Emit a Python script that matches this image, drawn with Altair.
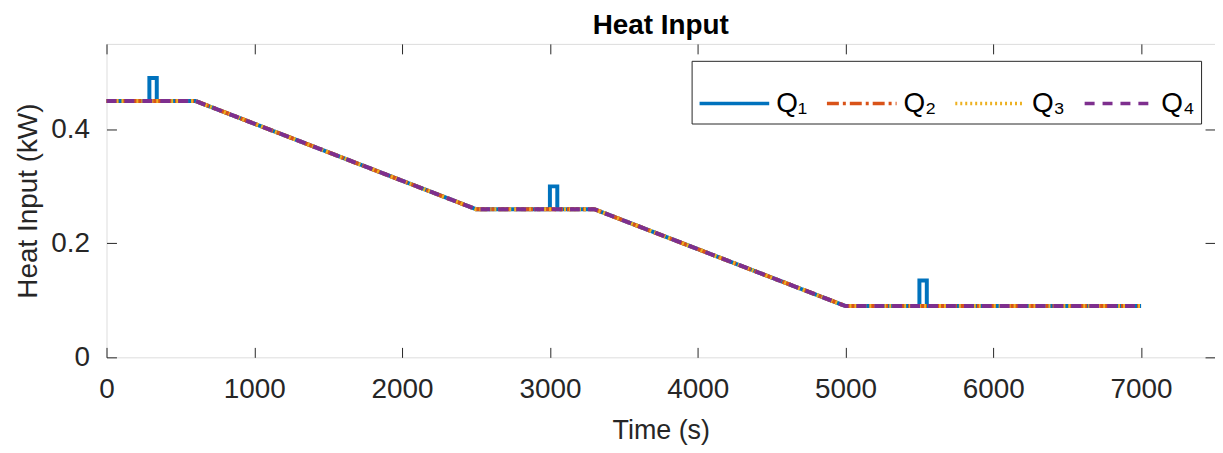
import altair as alt
import pandas as pd

# Q1 (with short pulses) and shared base profile for Q2..Q4
t_q1 = [0, 290, 290, 340, 340, 600, 2500, 3000, 3000, 3050, 3050, 3300, 5000, 5500, 5500, 5550, 5550, 7000]
v_q1 = [0.45, 0.45, 0.49, 0.49, 0.45, 0.45, 0.26, 0.26, 0.30, 0.30, 0.26, 0.26, 0.09, 0.09, 0.135, 0.135, 0.09, 0.09]
t_base = [0, 600, 2500, 3300, 5000, 7000]
v_base = [0.45, 0.45, 0.26, 0.26, 0.09, 0.09]

series = ["Q\u2081", "Q\u2082", "Q\u2083", "Q\u2084"]
colors = ["#0072BD", "#D95319", "#EDB120", "#7E2F8E"]
dashes = [[1, 0], [12, 4, 3, 4], [2, 3], [10, 8]]

x_ticks = [0, 1000, 2000, 3000, 4000, 5000, 6000, 7000]
y_ticks = [0, 0.2, 0.4]

rows = []
for i, (t, v) in enumerate(zip(t_q1, v_q1)):
    rows.append({"s": series[0], "i": i, "t": t, "q": v})
for s in series[1:]:
    for i, (t, v) in enumerate(zip(t_base, v_base)):
        rows.append({"s": s, "i": i, "t": t, "q": v})
df = pd.DataFrame(rows)

FONT = "Liberation Sans"
INK = "#262626"

xscale = alt.Scale(domain=[0, 7500], nice=False, zero=False)
yscale = alt.Scale(domain=[0, 0.55], nice=False, zero=False)

legend = alt.Legend(
    title=None, orient="none", legendX=588, legendY=17, direction="horizontal",
    symbolType="stroke", symbolSize=4900, symbolStrokeWidth=3.5,
    labelFontSize=28, labelFont=FONT, labelColor="black", labelOffset=5,
    columnPadding=12, padding=6, strokeColor=INK, fillColor="white",
)

base = alt.Chart(df)

lines = base.mark_line(strokeWidth=4).encode(
    x=alt.X("t:Q", scale=xscale, axis=alt.Axis(
        values=x_ticks, format="d", title="Time (s)", titleFontSize=27,
        titleFont=FONT, titleFontWeight="normal", titleColor=INK, titlePadding=15,
        labelFontSize=28, labelFont=FONT, labelColor=INK, labelPadding=18,
        ticks=False, tickSize=0, domain=False, grid=True, gridDash=[10, 3000],
        gridColor=INK, gridWidth=1, gridOpacity=1, labelFlush=False)),
    y=alt.Y("q:Q", scale=yscale, axis=alt.Axis(
        values=y_ticks, format=".1~f", title="Heat Input (kW)", titleFontSize=28,
        titleFont=FONT, titleFontWeight="normal", titleColor=INK, titlePadding=8,
        labelFontSize=28, labelFont=FONT, labelColor=INK, labelPadding=17,
        ticks=False, tickSize=0, domain=False, grid=True, gridDash=[10, 3000],
        gridColor=INK, gridWidth=1, gridOpacity=1, labelFlush=False)),
    color=alt.Color("s:N", scale=alt.Scale(domain=series, range=colors), legend=legend),
    strokeDash=alt.StrokeDash("s:N", scale=alt.Scale(domain=series, range=dashes), legend=legend),
    order=alt.Order("i:Q"),
)

frame = base.mark_point(opacity=0).encode(
    x=alt.X("t:Q", scale=xscale, axis=alt.Axis(
        orient="top", values=x_ticks, title=None, labels=False, ticks=False,
        tickSize=0, domain=False, grid=True, gridDash=[10, 3000], gridColor=INK,
        gridWidth=1, gridOpacity=1)),
    y=alt.Y("q:Q", scale=yscale, axis=alt.Axis(
        orient="right", values=y_ticks, title=None, labels=False, ticks=False,
        tickSize=0, domain=False, grid=True, gridDash=[10, 3000], gridColor=INK,
        gridWidth=1, gridOpacity=1)),
)

chart = alt.layer(lines, frame).resolve_axis(x="independent", y="independent").properties(
    width=1114, height=315,
    title=alt.TitleParams("Heat Input", fontSize=28, font=FONT, fontWeight="bold",
                          color="black", anchor="middle", offset=4),
    autosize=alt.AutoSizeParams(type="none"),
    padding={"left": 99, "top": 35, "right": 0, "bottom": 87},
).configure_view(stroke=INK, strokeWidth=1).configure(background="white")

chart.save("out.html", embed_options={"renderer": "svg", "actions": False})
